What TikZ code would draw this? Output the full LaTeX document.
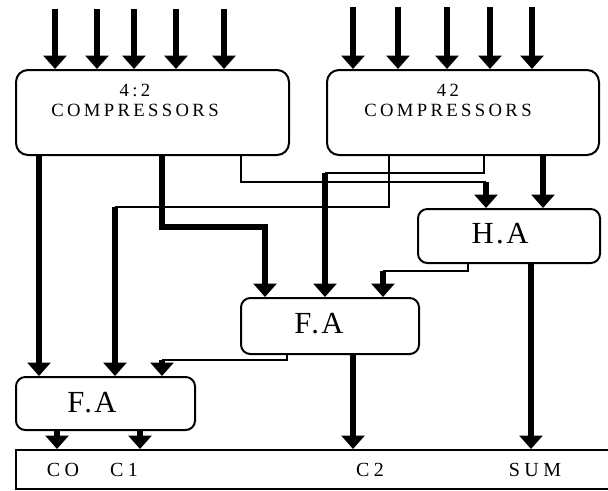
\documentclass[tikz,border=0pt]{standalone}
\usepackage{fontspec}
\setmainfont{Liberation Serif}
\newfontfamily\compfont[LetterSpace=18]{Liberation Serif}
\newfontfamily\blkfont[LetterSpace=8]{Liberation Serif}
\newfontfamily\outfont[LetterSpace=22]{Liberation Serif}
\usetikzlibrary{arrows.meta}
\newdimen\px \px=0.75pt
\tikzset{
  box/.style={draw, line width=1.5pt, rounded corners=7pt, anchor=north west, inner sep=0pt},
  thk/.style={line width=4.2pt},
  thn/.style={line width=1.5pt},
  tip/.style={-{Triangle[length=10pt,width=17pt]}},
  comptext/.style={inner sep=0pt, align=center, font=\compfont\fontsize{14}{15}\selectfont},
  blktext/.style={inner sep=0pt, font=\blkfont\fontsize{23}{24}\selectfont},
  outtext/.style={inner sep=0pt, font=\outfont\fontsize{15}{16}\selectfont},
}
\begin{document}
\begin{tikzpicture}[x=0.75pt,y=-0.75pt, line join=miter]
\useasboundingbox (0,0) rectangle (608,490);
% boxes
\node[box, rounded corners=9pt, minimum width=273\px, minimum height=85\px] (lc) at (15,69) {};
\node[box, rounded corners=9pt, minimum width=272\px, minimum height=85\px] (rc) at (326,69) {};
\node[box, minimum width=182\px, minimum height=54\px] (ha) at (417,208) {};
\node[box, minimum width=178\px, minimum height=56\px] (fa2) at (240,297) {};
\node[box, minimum width=179\px, minimum height=53\px] (fa1) at (15,376) {};
\node[box, rounded corners=0pt, minimum width=620\px, minimum height=39\px] (out) at (15,449) {};
% texts
\node[comptext] (lct) at (135,100) {4:2\\COMPRESSORS};
\node[comptext] (rct) at (448,100) {42\\COMPRESSORS};
\node[blktext] (hat) at (500,234) {H.A};
\node[blktext] (fa2t) at (319,324) {F.A};
\node[blktext] (fa1t) at (92,403) {F.A};
\node[outtext] (o0) at (63,470) {CO};
\node[outtext] (o1) at (124,470) {C1};
\node[outtext] (o2) at (370,470) {C2};
\node[outtext] (o3) at (535,470) {SUM};
% inputs
\foreach \x [count=\i] in {55,97,134,176,224} {
  \coordinate (li\i) at (\x,9);
  \draw[thk,tip] (li\i) -- (lc.north -| li\i);
}
\foreach \x [count=\i] in {353,398,447,490,532} {
  \coordinate (ri\i) at (\x,7);
  \draw[thk,tip] (ri\i) -- (rc.north -| ri\i);
}
% left compressor outputs
\draw[thk,tip] (lc.south -| 39,0) -- (fa1.north -| 39,0);
\coordinate (b2) at (265,227);
\draw[thk,tip] (lc.south -| 162,0) |- (b2) -- (fa2.north -| b2);
\coordinate (b3) at (486,182);
\draw[thn] (lc.south -| 241,0) |- (b3);
\draw[thk,tip] (b3) -- (ha.north -| b3);
% right compressor outputs
\coordinate (b4) at (115,207);
\draw[thn] (rc.south -| 389,0) |- (b4);
\draw[thk,tip] (b4) -- (fa1.north -| b4);
\coordinate (b5) at (325,173);
\draw[thn] (rc.south -| 484,0) |- (b5);
\draw[thk,tip] (b5) -- (fa2.north -| b5);
\draw[thk,tip] (rc.south -| 543,0) -- (ha.north -| 543,0);
% half adder outputs
\draw[thk,tip] (ha.south -| 531,0) -- (out.north -| 531,0);
\coordinate (b6) at (383,271);
\draw[thn] (ha.south -| 468,0) |- (b6);
\draw[thk,tip] (b6) -- (fa2.north -| b6);
% full adder 2 outputs
\draw[thk,tip] (fa2.south -| 353,0) -- (out.north -| 353,0);
\coordinate (b7) at (162,360);
\draw[thn] (fa2.south -| 287,0) |- (b7);
\draw[thk,tip] (b7) -- (fa1.north -| b7);
% full adder 1 outputs
\draw[thk,tip] (fa1.south -| 57,0) -- (out.north -| 57,0);
\draw[thk,tip] (fa1.south -| 140,0) -- (out.north -| 140,0);
\end{tikzpicture}
\end{document}
